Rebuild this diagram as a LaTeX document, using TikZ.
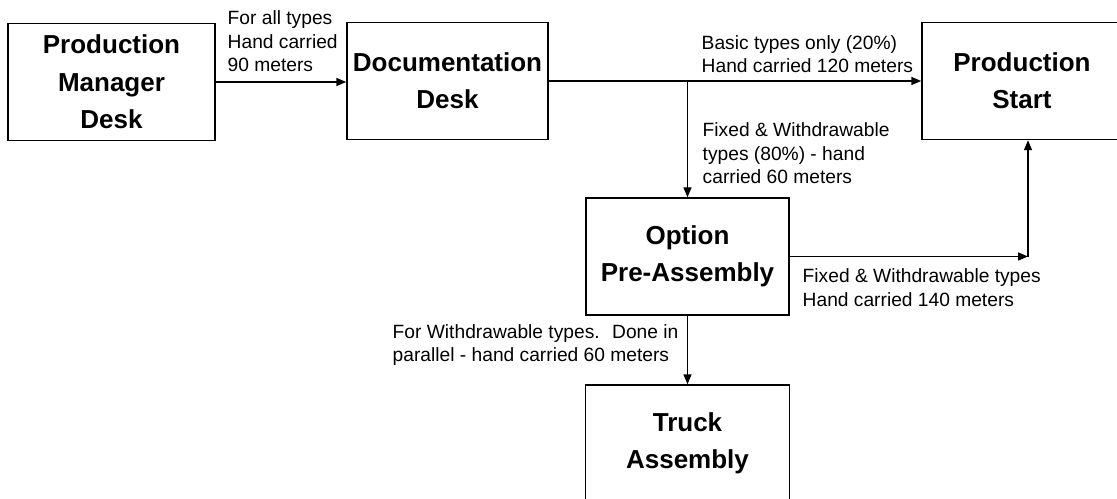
\documentclass[tikz,border=0pt]{standalone}
\usepackage{fontspec}
\setmainfont{Liberation Sans}
\usetikzlibrary{arrows.meta}

\tikzset{every picture/.style={line width=1.1pt}}
\tikzset{
  stagebox/.style={draw, inner sep=0pt, minimum height=87.75pt, align=center,
    font=\bfseries\fontsize{19.5pt}{28pt}\selectfont},
  note/.style={anchor=west, inner sep=0pt, align=left,
    font=\fontsize{14.4pt}{17.6pt}\selectfont},
  flow/.style={-{Triangle[length=7.5pt,width=6pt]}}
}

\begin{document}
\begin{tikzpicture}[x=0.75pt,y=0.75pt,yscale=-1,xscale=1]
        %set diagram left start at 0, and has height of 499
        \clip (0,0) rectangle (1117,499);

        %Shape: Rectangle [pmd]
        \node [stagebox, minimum width=155.25pt] (pmd) at (111.5,82) {Production\\Manager\\Desk};
        %Shape: Rectangle [doc]
        \node [stagebox, minimum width=150.75pt] (doc) at (447.5,81) {Documentation\\Desk};
        %Shape: Rectangle [ps]
        \node [stagebox, minimum width=150pt] (ps) at (1022,81) {Production\\Start};
        %Shape: Rectangle [opt]
        \node [stagebox, minimum width=152.25pt] (opt) at (687.5,256.5) {Option\\Pre-Assembly};
        %Shape: Rectangle [truck]
        \node [stagebox, minimum width=153pt] (truck) at (687.5,443.5) {Truck\\Assembly};

        %Straight Lines
        \draw [flow] (pmd.east) -- (pmd.east -| doc.west);
        \draw [flow] (doc.east) -- (doc.east -| ps.west);
        \coordinate (split) at (opt.north |- doc.east);
        \draw [flow] (split) -- (opt.north);
        \coordinate (bend) at (1028,256.5);
        \draw [flow] (opt.east) -- (bend);
        \draw [flow] (bend) -- (bend |- ps.south);
        \draw [flow] (opt.south) -- (truck.north);

        % Text Node
        \node [note] (lblpmd) at (227,41.5) {For all types\\Hand carried\\90 meters};
        % Text Node
        \node [note] (lblbasic) at (701,54) {Basic types only (20\%)\\Hand carried 120 meters};
        % Text Node
        \node [note] (lblsplit) at (702,153.5) {Fixed \& Withdrawable\\types (80\%) - hand\\carried 60 meters};
        % Text Node
        \node [note] (lblopt) at (802,287.5) {Fixed \& Withdrawable types\\Hand carried 140 meters};
        % Text Node
        \node [note] (lbltruck) at (392,345) {For Withdrawable types.~ Done in\\parallel - hand carried 60 meters};

\end{tikzpicture}
\end{document}
